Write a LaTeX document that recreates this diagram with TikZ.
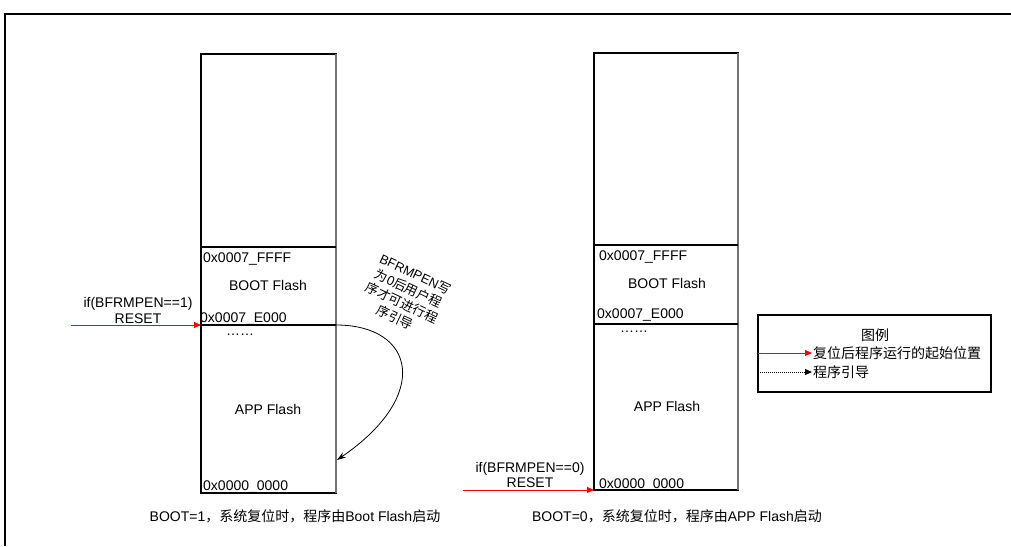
\documentclass[tikz,border=0pt]{standalone}
\usepackage{fontspec}
\setmainfont{Liberation Sans}
\newfontfamily\cjk{Noto Sans CJK SC}
\usetikzlibrary{arrows.meta}
\begin{document}
\begin{tikzpicture}[x=1pt,y=-1pt,
  txt/.style={inner sep=0pt, font=\fontsize{14}{15}\selectfont},
  lbl/.style={txt, anchor=base west},
  ctr/.style={txt, anchor=base},
  memline/.style={line width=1.2pt},
  grayedge/.style={line width=1.4pt, draw=black!55},
  resetarrow/.style={red, line width=1pt, -{Triangle[length=7pt,width=6pt]}},
  bootarrow/.style={black, line width=0.8pt, -{Stealth[length=9pt,width=6pt]}},
  legarrow/.style={black, line width=1pt, densely dotted, -{Triangle[length=7pt,width=6pt]}},
]
\useasboundingbox (0,0) rectangle (1011,546);
% outer frame
\draw[line width=2pt] (5,546) -- (5,14) -- (1011,14);

% ---------------- left memory map ----------------
\coordinate (Ltl) at (201,54);
\coordinate (Lbr) at (336,493);
\draw[memline] (Ltl) rectangle (Lbr);
\draw[grayedge] (336,54) -- (336,493);
\draw[memline] (201,247) -- (336,247);
\draw[memline] (201,325) -- (336,325);
\node[lbl] (Lffff) at (203,262) {0x0007\_FFFF};
\node[ctr] (Lboot) at (268,290) {BOOT Flash};
\node[lbl] (Le000) at (200,322) {0x0007\_E000};
\node[ctr] (Ldots) at (240,335) {……};
\node[ctr] (Lapp) at (268,414) {APP Flash};
\node[lbl] (Lzero) at (203,490) {0x0000\_0000};
\node[ctr] (Lif) at (138,307) {if(BFRMPEN==1)};
\node[ctr] (Lreset) at (138,323) {RESET};
\coordinate (LresetS) at (71,325);
\coordinate (LresetE) at (201,325);
\draw[resetarrow] (LresetS) -- (LresetE);
\coordinate (LcurveS) at (336,325);
\coordinate (LcurveE) at (337,460);
\draw[bootarrow] (LcurveS) .. controls (415,325) and (432,395) .. (LcurveE);
\node[inner sep=0pt, font=\fontsize{13}{16}\selectfont, align=center, rotate=-25] (Lnote) at (405,296)
  {BFRMPEN{\cjk 写}\\{\cjk 为}0{\cjk 后用户程}\\{\cjk 序才可进行程}\\{\cjk 序引导}};
\node[ctr] (Lcap) at (295,521) {BOOT=1{\cjk ，系统复位时，程序由}Boot Flash{\cjk 启动}};

% ---------------- right memory map ----------------
\coordinate (Rtl) at (594,53);
\coordinate (Rbr) at (738,490);
\draw[memline] (Rtl) rectangle (Rbr);
\draw[grayedge] (738,53) -- (738,490);
\draw[memline] (594,245) -- (738,245);
\draw[memline] (594,324) -- (738,324);
\node[lbl] (Rffff) at (599,260) {0x0007\_FFFF};
\node[ctr] (Rboot) at (667,288) {BOOT Flash};
\node[lbl] (Re000) at (597,318) {0x0007\_E000};
\node[ctr] (Rdots) at (634,332) {……};
\node[ctr] (Rapp) at (667,411) {APP Flash};
\node[lbl] (Rzero) at (599,488) {0x0000\_0000};
\node[ctr] (Rif) at (530,472) {if(BFRMPEN==0)};
\node[ctr] (Rreset) at (530,487) {RESET};
\coordinate (RresetS) at (463,490);
\coordinate (RresetE) at (594,490);
\draw[resetarrow] (RresetS) -- (RresetE);
\node[ctr] (Rcap) at (677,521) {BOOT=0{\cjk ，系统复位时，程序由}APP Flash{\cjk 启动}};

% ---------------- legend ----------------
\node[draw, line width=1.2pt, inner sep=0pt, minimum width=233pt, minimum height=77pt]
  (legend) at (874.5,353.5) {};
\node[ctr] (legtitle) at (875,340) {\cjk 图例};
\coordinate (legRS) at (758,353);
\coordinate (legRE) at (812,353);
\draw[resetarrow] (legRS) -- (legRE);
\node[lbl] (legRtxt) at (813,358) {\cjk 复位后程序运行的起始位置};
\coordinate (legBS) at (758,372);
\coordinate (legBE) at (812,372);
\draw[legarrow] (legBS) -- (legBE);
\node[lbl] (legBtxt) at (813,377) {\cjk 程序引导};
\end{tikzpicture}
\end{document}
